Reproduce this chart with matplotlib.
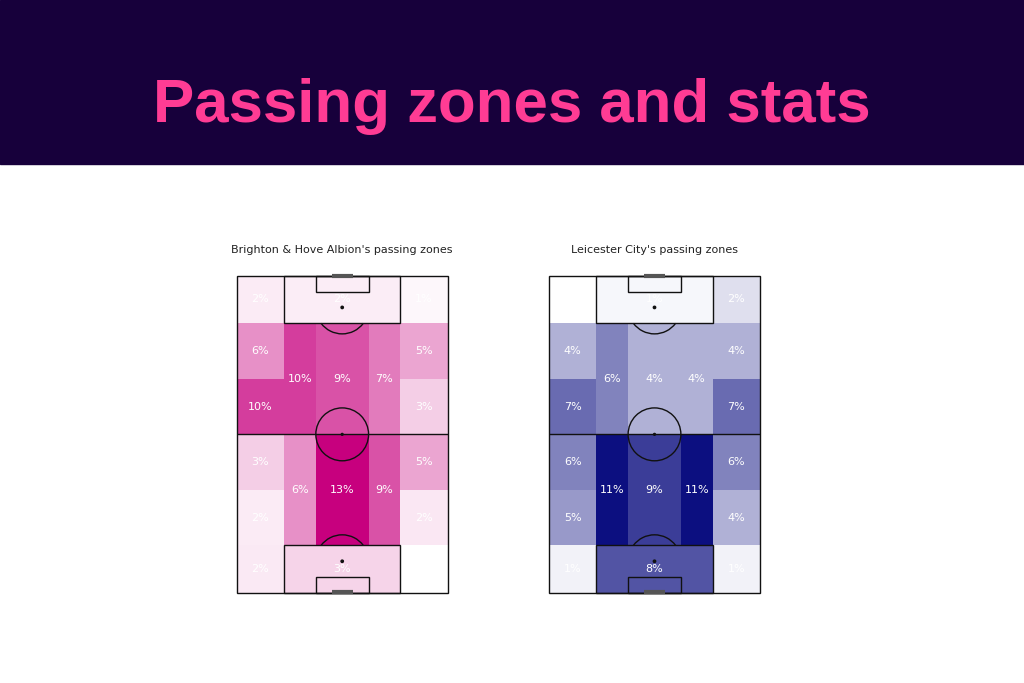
import matplotlib
matplotlib.use("Agg")
import matplotlib.pyplot as plt
from matplotlib.patches import Rectangle, Circle, Arc
from matplotlib.colors import LinearSegmentedColormap, Normalize

# ---------------- data (percent of passes per zone, top of pitch first) ----------------
title = "Passing zones and stats"
teams = ["Brighton & Hove Albion", "Leicester City"]

brighton_left_wing = [1.6, 6, 10, 3, 1.6, 1.7]
brighton_right_wing = [1.0, 5, 3, 5, 1.8, 0.6]
brighton_boxes = [1.5, 2.7]          # top box, bottom box
brighton_upper_central = [10, 9, 7]  # left half-space, centre, right half-space
brighton_lower_central = [6, 13, 9]

leicester_left_wing = [0.6, 4, 7, 6, 5, 1.2]
leicester_right_wing = [2, 4, 7, 6, 4, 1.2]
leicester_boxes = [1.0, 8]
leicester_upper_central = [6, 4, 4]
leicester_lower_central = [11, 9, 11]

team_colors = ["#C7007E", "#0C0F80"]

# ---------------- pitch geometry (StatsBomb 120 x 80, vertical) ----------------
L, W = 120, 80
wing_rows = [0, 18, 39, 60, 81, 102, 120]
lanes = [0, 18, 30, 50, 62, 80]


def zones(left, right, boxes, upper, lower):
    z = []
    for i in range(6):
        z.append((lanes[0], lanes[1], wing_rows[i], wing_rows[i + 1], left[i]))
        z.append((lanes[4], lanes[5], wing_rows[i], wing_rows[i + 1], right[i]))
    z.append((18, 62, 0, 18, boxes[0]))
    z.append((18, 62, 102, 120, boxes[1]))
    for j in range(3):
        z.append((lanes[j + 1], lanes[j + 2], 18, 60, upper[j]))
        z.append((lanes[j + 1], lanes[j + 2], 60, 102, lower[j]))
    return z


def draw_pitch(ax):
    lc = "#111111"
    lw = 1.0
    kw = dict(fill=False, ec=lc, lw=lw, zorder=3, clip_on=False)
    ax.add_patch(Rectangle((0, 0), W, L, **kw))
    ax.plot([0, W], [60, 60], color=lc, lw=lw, zorder=3)
    ax.add_patch(Circle((40, 60), 10, **kw))
    ax.add_patch(Circle((40, 60), 0.35, color=lc, zorder=3))
    # boxes
    ax.add_patch(Rectangle((18, 0), 44, 18, **kw))
    ax.add_patch(Rectangle((18, 102), 44, 18, **kw))
    ax.add_patch(Rectangle((30, 0), 20, 6, **kw))
    ax.add_patch(Rectangle((30, 114), 20, 6, **kw))
    ax.add_patch(Circle((40, 12), 0.45, color=lc, zorder=3))
    ax.add_patch(Circle((40, 108), 0.45, color=lc, zorder=3))
    ax.add_patch(Arc((40, 12), 20, 20, theta1=36.87, theta2=143.13, ec=lc, lw=lw, zorder=3))
    ax.add_patch(Arc((40, 108), 20, 20, theta1=216.87, theta2=323.13, ec=lc, lw=lw, zorder=3))
    # goals
    for gy in (0.2, 119.8):
        ax.plot([36, 44], [gy, gy], color="#555555", lw=3, zorder=4,
                solid_capstyle="butt", clip_on=False)


fig = plt.figure(figsize=(10.24, 6.83), dpi=100)
fig.patch.set_facecolor("white")
FH = 683.0
fig.patches.append(Rectangle((0, (FH - 164) / FH), 1, 164 / FH, transform=fig.transFigure,
                             color="#17003B", zorder=0))
fig.text(0.5, (FH - 122) / FH, title, ha="center", va="baseline", color="#FF3C94",
         fontsize=44.5, fontweight="bold", family="Liberation Sans")

datasets = [
    zones(brighton_left_wing, brighton_right_wing, brighton_boxes,
          brighton_upper_central, brighton_lower_central),
    zones(leicester_left_wing, leicester_right_wing, leicester_boxes,
          leicester_upper_central, leicester_lower_central),
]
lefts = [236.7, 549.0]

for k in range(2):
    ax = fig.add_axes([lefts[k] / 1024, (FH - 593) / FH, 211 / 1024, 317.3 / FH])
    ax.set_xlim(0, W)
    ax.set_ylim(L, 0)
    ax.axis("off")
    cmap = LinearSegmentedColormap.from_list("c", ["#FFFFFF", team_colors[k]])
    vals = [z[4] for z in datasets[k]]
    norm = Normalize(min(vals), max(vals))
    for x0, x1, y0, y1, v in datasets[k]:
        ax.add_patch(Rectangle((x0, y0), x1 - x0, y1 - y0, color=cmap(norm(v)), lw=0, zorder=1))
        ax.text((x0 + x1) / 2, (y0 + y1) / 2, f"{round(v)}%", ha="center", va="center",
                color="white", fontsize=8, zorder=5)
    draw_pitch(ax)
    ax.set_title(f"{teams[k]}'s passing zones", fontsize=8, pad=16, color="#222222")

fig.savefig("out.png", dpi=100)
